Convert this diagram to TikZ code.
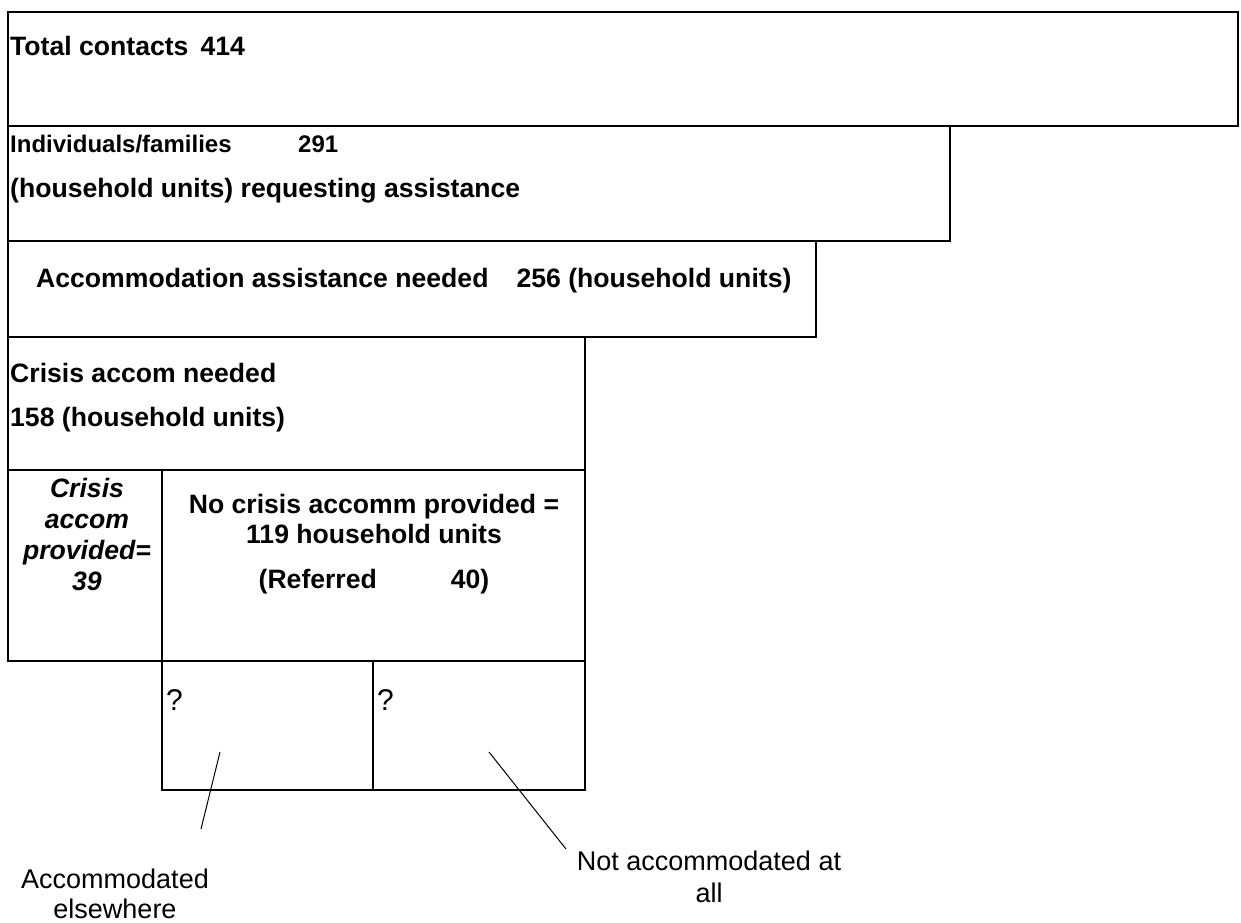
\documentclass[tikz,border=0pt]{standalone}
\usepackage{fontspec}
\setmainfont{Liberation Sans}
\usepackage{tikz}

\tikzset{
	boxline/.style={line width=1.5pt},
	leader/.style={line width=1pt},
	bold/.style={font=\fontsize{26.6}{31}\selectfont\bfseries, inner sep=0pt},
	boldsmall/.style={font=\fontsize{24}{28}\selectfont\bfseries, inner sep=0pt},
	bolditalic/.style={font=\fontsize{26.6}{31}\selectfont\bfseries\itshape, inner sep=0pt},
	plain/.style={font=\fontsize{27}{31}\selectfont, inner sep=0pt},
	query/.style={font=\fontsize{30}{34}\selectfont, inner sep=0pt}
}

\begin{document}
\begin{tikzpicture}[x=1pt,y=-1pt]
			\useasboundingbox (0,0) rectangle (1241,922);
			
			% boxes
			\draw[boxline] (8,12) rectangle (1238,126);
			\draw[boxline] (8,126) rectangle (950,241);
			\draw[boxline] (8,241) rectangle (816,337);
			\draw[boxline] (8,337) rectangle (585,470);
			\draw[boxline] (8,470) rectangle (162,661);
			\draw[boxline] (162,470) rectangle (585,661);
			\draw[boxline] (162,661) rectangle (373,790);
			\draw[boxline] (373,661) rectangle (585,790);
			
			\node[bold, anchor=base west] (total) at (10,55) {Total contacts\hspace{12pt}414};
			
			\node[boldsmall, anchor=base west] (indiv) at (10,152) {Individuals/families};
			\node[boldsmall, anchor=base west] (indivnum) at (298,152) {291};
			\node[bold, anchor=base west] (request) at (10,197) {(household units) requesting assistance};
			
			\node[bold, anchor=base west] (accneed) at (36,287) {Accommodation assistance needed\hspace{28pt}256 (household units)};
			
			\node[bold, anchor=base west] (crisis) at (10,382) {Crisis accom needed};
			\node[bold, anchor=base west] (crisisnum) at (10,426) {158 (household units)};
			
			\node[bolditalic, anchor=base] (prov1) at (87,497) {Crisis};
			\node[bolditalic, anchor=base] (prov2) at (87,528) {accom};
			\node[bolditalic, anchor=base] (prov3) at (87,559) {provided=};
			\node[bolditalic, anchor=base] (prov4) at (87,590) {39};
			
			\node[bold, anchor=base] (nocrisis1) at (374,513) {No crisis accomm provided =};
			\node[bold, anchor=base] (nocrisis2) at (374,543) {119 household units};
			\node[bold, anchor=base] (referred) at (374,588) {(Referred\hspace{74pt}40)};
			
			\node[query, anchor=base west] (qleft) at (166,710) {?};
			\node[query, anchor=base west] (qright) at (377,710) {?};
			
			% leader lines
			\coordinate (leftin) at (220,752);
			\coordinate (leftout) at (201,829);
			\coordinate (rightin) at (489,752);
			\coordinate (rightout) at (566,849);
			\draw[leader] (leftin) -- (leftout);
			\draw[leader] (rightin) -- (rightout);
			
			\node[plain, anchor=base] (elsewhere1) at (115,888) {Accommodated};
			\node[plain, anchor=base] (elsewhere2) at (115,918) {elsewhere};
			\node[plain, anchor=base] (notacc1) at (709,870) {Not accommodated at};
			\node[plain, anchor=base] (notacc2) at (709,902) {all};
\end{tikzpicture}
\end{document}
